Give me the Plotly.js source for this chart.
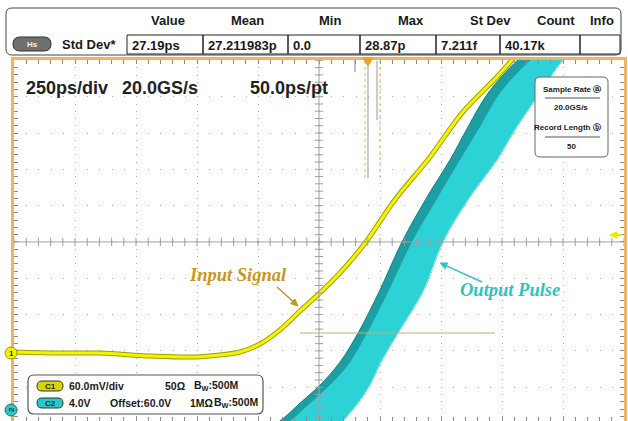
<!DOCTYPE html>
<html><head><meta charset="utf-8">
<script src="https://cdn.plot.ly/plotly-3.0.1.min.js"></script>
<style>html,body{margin:0;padding:0;overflow:hidden;background:#fff}#chart{width:628px;height:421px}</style>
</head><body><div id="chart"></div>
<script>
// ---------------- data (time in ps, level in divisions) ----------------
const inputTime  = [-1250,-1061,-898,-693,-529,-406,-324,-242,-160,-78,4,86,189,311,455,586,730,791,844];
const inputLevel = [-3.03,-3.06,-3.06,-3.14,-3.17,-3.11,-3.03,-2.81,-2.42,-1.90,-1.40,-0.85,-0.03,1.16,2.34,3.55,4.55,5.01,5.43];

const pulseLevel     = [-5.45,-4.93,-4.44,-3.94,-3.31,-2.51,-1.32,0,1.24,2.26,3.17,4.10,5.01,5.56];
const pulseLeftTime  = [-283,-160,-78,4,86,160,250,340,443,537,611,693,815,926];
const pulseShadeTime = [-234,-119,-37,45,127,197,287,381,488,578,660,742,868,988];
const pulseRightTime = [25,98,160,209,254,324,430,508,619,730,811,906,1000,1090];

const statHeaders = ["Value","Mean","Min","Max","St Dev","Count","Info"];
const statValues  = ["27.19ps","27.211983p","0.0","28.87p","7.211f","40.17k",""];
const statName = "Std Dev*";
const timebaseLabels = ["250ps/div","20.0GS/s","50.0ps/pt"];
const sampleRate = "20.0GS/s";
const recordLength = "50";
const chNames = ["C1","C2"];
const chScale = ["60.0mV/div","4.0V"];
const chOffset = ["","Offset:60.0V"];
const chImpedance = ["50Ω","1MΩ"];
const chBandwidth = ["500M","500M"];

// ---------------- layout helpers ----------------
const W=628,H=421;
const X = p => p/W;
const Y = p => (H-p)/H;
function rr(x0,y0,x1,y1,r){
  return `M${X(x0+r)},${Y(y0)} L${X(x1-r)},${Y(y0)} Q${X(x1)},${Y(y0)} ${X(x1)},${Y(y0+r)} L${X(x1)},${Y(y1-r)} Q${X(x1)},${Y(y1)} ${X(x1-r)},${Y(y1)} L${X(x0+r)},${Y(y1)} Q${X(x0)},${Y(y1)} ${X(x0)},${Y(y1-r)} L${X(x0)},${Y(y0+r)} Q${X(x0)},${Y(y0)} ${X(x0+r)},${Y(y0)} Z`;
}
const SANS = "Liberation Sans, Arial, sans-serif";
const SERIF = "Liberation Serif, Times New Roman, serif";
const shapes=[], ann=[];
function T(text,x,y,o={}){
  if(!text) return;
  ann.push(Object.assign({text:text,x:X(x),y:Y(y),xref:'paper',yref:'paper',showarrow:false,
    xanchor:o.xa||'left',yanchor:'middle',font:{family:o.family||SANS,size:o.size||12,color:o.color||'#1a1a1a',weight:o.weight||'bold',style:o.style||'normal'}},o.extra||{}));
}
function S(path,o={}){
  shapes.push(Object.assign({type:'path',path:path,xref:'paper',yref:'paper',line:{color:o.lc||'#555',width:o.lw===undefined?1:o.lw},fillcolor:o.fill||'rgba(0,0,0,0)',layer:o.layer||'above'},o.extra||{}));
}
function L(x0,y0,x1,y1,color,width,dash){
  shapes.push({type:'line',xref:'paper',yref:'paper',x0:X(x0),y0:Y(y0),x1:X(x1),y1:Y(y1),line:{color:color,width:width,dash:dash||'solid'},layer:'above'});
}
function arrow(x0,y0,x1,y1,color,w,hl){
  const dx=x1-x0, dy=y1-y0, len=Math.hypot(dx,dy), ux=dx/len, uy=dy/len;
  const bx=x1-ux*hl, by=y1-uy*hl, nx=-uy, ny=ux, hw=hl*0.45;
  L(x0,y0,bx,by,color,w);
  S(`M${X(x1)},${Y(y1)} L${X(bx+nx*hw)},${Y(by+ny*hw)} L${X(bx-nx*hw)},${Y(by-ny*hw)} Z`,{lc:color,lw:1,fill:color});
}

// ---- measurement table ----
S(rr(6,8,621,55,6),{lc:'#444',lw:1,fill:'#fff'});
const cellEdges=[127,203,288,360,436,500,580,620];
const headerX=[168,247,330,411,490,556,602];
statHeaders.forEach((h,i)=>T(h,headerX[i],20,{xa:'center',size:13}));
for(let i=0;i<statValues.length;i++){
  S(`M${X(cellEdges[i])},${Y(35)} L${X(cellEdges[i+1])},${Y(35)} L${X(cellEdges[i+1])},${Y(54)} L${X(cellEdges[i])},${Y(54)} Z`,{lc:'#222',lw:1});
  T(statValues[i],cellEdges[i]+3,45,{size:13});
}
S(rr(13,37,51,51,7),{lc:'#333',lw:1,fill:'#6f6f6f'});
T("Hs",32,44,{xa:'center',size:8,color:'#f2f2f2'});
T(statName,60,44,{size:13});

// ---- timebase labels ----
const tbX=[24,120,248];
timebaseLabels.forEach((t,i)=>T(t,tbX[i],88,{size:18,color:'#222'}));

// ---- sample rate box ----
S(rr(535,77,608,157,5),{lc:'#666',lw:1,fill:'#fff'});
T("Sample Rate ⓐ",603,89,{xa:'right',size:8});
L(545,98,600,98,'#555',1);
T(sampleRate,571,108,{xa:'center',size:8});
T("Record Length ⓑ",603,127,{xa:'right',size:8});
L(545,137,600,137,'#555',1);
T(recordLength,571,146,{xa:'center',size:8});

// ---- channel box ----
S(rr(28,375,263,414,6),{lc:'#555',lw:1.2,fill:'#fff'});
const chY=[386,403];
const chFill=['#d6d600','#2cc8c8'];
chNames.forEach((c,i)=>{
  S(rr(37,chY[i]-5,63,chY[i]+5,5),{lc:'#333',lw:1,fill:chFill[i]});
  T(c,50,chY[i],{xa:'center',size:8,color:'#222'});
  T(chScale[i],67,chY[i],{size:10.5});
  T(chOffset[i],108,chY[i],{size:10.5});
  T(chImpedance[i],i===0?163:188,chY[i],{size:10.5});
  T("B<sub>W</sub>:"+chBandwidth[i],i===0?192:212,chY[i],{size:10.5});
});

// ---- left channel markers ----
shapes.push({type:'circle',xref:'paper',yref:'paper',x0:X(5),x1:X(17),y0:Y(359),y1:Y(347),fillcolor:'#f2f200',line:{color:'#9a9a00',width:1},layer:'above'});
T("1",11,353,{xa:'center',size:8,color:'#333'});
shapes.push({type:'circle',xref:'paper',yref:'paper',x0:X(5),x1:X(17),y0:Y(416),y1:Y(404),fillcolor:'#2cc8c8',line:{color:'#177',width:1},layer:'above'});
T("2",11,410,{xa:'center',size:8,color:'#234',extra:{textangle:-90}});

// ---- cursors / trigger marks ----
L(365,61,365,178,'#f0b040',1,'dot');
L(380,61,380,178,'#f0b040',1,'dot');
L(368,61,368,178,'#a8a8a8',1.2);
L(377,61,377,120,'#a8a8a8',1.2);
L(355,60,355,72,'#999',1.2);
S(`M${X(363)},${Y(58)} L${X(373)},${Y(58)} L${X(368)},${Y(66)} Z`,{lc:'#f0a020',lw:1,fill:'#f0a020'});
L(300,333,495,333,'#c9a883',1.2);

// ---- callouts ----
T("Input Signal",187,275,{family:SERIF,style:'italic',size:18.5,color:'#c8961e'});
arrow(277,287,298,306,'#c8961e',1.5,7);
T("Output Pulse",458,290,{family:SERIF,style:'italic',size:18.5,color:'#2cc3c8'});
arrow(482,282,440,263,'#2cc3c8',1.5,7);
arrow(622,235,610,235,'#e8e800',2,7);

// ---- center graticule lines ----
shapes.push({type:'line',xref:'x',yref:'y',x0:-1250,x1:1250,y0:0,y1:0,line:{color:'#a0a0a0',width:1},layer:'above'});
shapes.push({type:'line',xref:'x',yref:'y',x0:0,x1:0,y0:-4.93,y1:5.01,line:{color:'#a0a0a0',width:1},layer:'above'});
const tickXs=[],tickYs=[];
for(let k=-25;k<=25;k++) tickXs.push(k*50);
for(let k=-25;k<=25;k++) tickYs.push(k*0.2);

// ---------------- traces ----------------
const bandX = pulseLeftTime.concat(pulseRightTime.slice().reverse());
const bandY = pulseLevel.concat(pulseLevel.slice().reverse());
const brightX = pulseShadeTime.concat(pulseRightTime.slice().reverse());
const traces=[
  {x:bandX,y:bandY,type:'scatter',mode:'lines',fill:'toself',fillcolor:'#1c9ea3',line:{color:'#187f84',width:1,shape:'spline'},hoverinfo:'skip'},
  {x:brightX,y:bandY,type:'scatter',mode:'lines',fill:'toself',fillcolor:'#2dd2d6',line:{color:'rgba(0,0,0,0)',width:0,shape:'spline'},hoverinfo:'skip'},
  {x:pulseRightTime,y:pulseLevel,type:'scatter',mode:'lines',line:{color:'#a8f0f0',width:1,shape:'spline'},hoverinfo:'skip'},
  {x:inputTime,y:inputLevel,type:'scatter',mode:'lines',line:{color:'#9e9e00',width:5,shape:'spline'},hoverinfo:'skip'},
  {x:inputTime,y:inputLevel,type:'scatter',mode:'lines',line:{color:'#f4f400',width:3,shape:'spline'},hoverinfo:'skip'},
  {x:tickXs,y:tickXs.map(()=>0),type:'scatter',mode:'markers',marker:{symbol:'line-ns',size:6,line:{color:'#a0a0a0',width:1}},hoverinfo:'skip'},
  {x:tickXs.map(()=>0),y:tickYs,type:'scatter',mode:'markers',marker:{symbol:'line-ew',size:6,line:{color:'#a0a0a0',width:1}},hoverinfo:'skip'},
  {x:[0],y:[0],xaxis:'x2',yaxis:'y2',type:'scatter',mode:'markers',marker:{opacity:0},hoverinfo:'skip'}
];

const xr=[-1250,1250], yr=[-4.93,5.01];
const xd=[14/W,624/W], yd=[0,361/H];
const layout={
  width:W,height:H,margin:{l:0,r:0,t:0,b:0},paper_bgcolor:'#fff',plot_bgcolor:'#fff',showlegend:false,
  xaxis:{range:xr,domain:xd,tick0:0,dtick:250,showgrid:true,gridcolor:'#a8a8a8',gridwidth:1,griddash:'1px,6.26px',zeroline:false,showticklabels:false,ticks:'',showline:false,fixedrange:true},
  yaxis:{range:yr,domain:yd,tick0:0,dtick:1,showgrid:true,gridcolor:'#a8a8a8',gridwidth:1,griddash:'1px,11.2px',zeroline:false,showticklabels:false,ticks:'',showline:false,fixedrange:true},
  xaxis2:{overlaying:'x',anchor:'y2',range:xr,domain:xd,tick0:0,dtick:50,ticks:'inside',ticklen:4,tickcolor:'#8a8a8a',tickwidth:1,mirror:'ticks',showline:true,linecolor:'#eeb464',linewidth:3,showgrid:false,zeroline:false,showticklabels:false,fixedrange:true},
  yaxis2:{overlaying:'y',anchor:'x2',range:yr,domain:yd,tick0:0,dtick:0.2,ticks:'inside',ticklen:4,tickcolor:'#8a8a8a',tickwidth:1,mirror:'ticks',showline:true,linecolor:'#eeb464',linewidth:3,showgrid:false,zeroline:false,showticklabels:false,fixedrange:true},
  shapes:shapes,annotations:ann
};
Plotly.newPlot('chart',traces,layout,{staticPlot:true,displayModeBar:false});
</script></body></html>
